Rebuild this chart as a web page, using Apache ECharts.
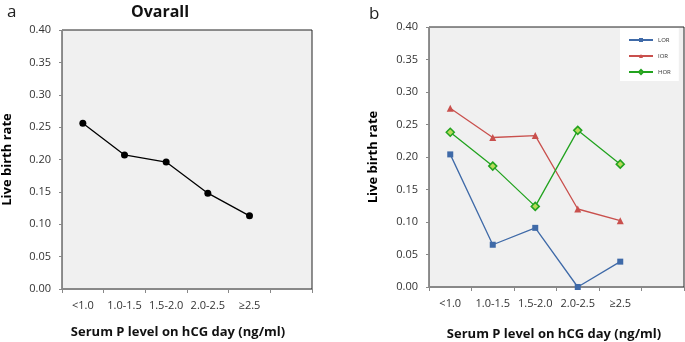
<!DOCTYPE html>
<html>
<head>
<meta charset="utf-8">
<script src="https://cdn.jsdelivr.net/npm/echarts@6/dist/echarts.min.js"></script>
<style>
  html, body { margin: 0; padding: 0; background: #fff; }
  #chart { width: 685px; height: 342px; }
</style>
</head>
<body>
<div id="chart"></div>
<script>
// categories: last band is empty (as in the original figure)
const categories = ['<1.0', '1.0-1.5', '1.5-2.0', '2.0-2.5', '≥2.5', ''];

// panel a — overall
const overall = [0.256, 0.207, 0.196, 0.148, 0.113];

// panel b — by ovarian response
const lor = [0.204, 0.065, 0.091, 0.0, 0.039];
const ior = [0.275, 0.230, 0.233, 0.120, 0.102];
const hor = [0.238, 0.186, 0.124, 0.241, 0.189];

const FONT = '"Open Sans", "Liberation Sans", sans-serif';
const chart = echarts.init(document.getElementById('chart'), null, { renderer: 'canvas' });

const xAxisBase = (gridIndex) => ({
  type: 'category',
  gridIndex,
  data: categories,
  boundaryGap: true,
  axisLine: { show: true, lineStyle: { color: '#888', width: 1 } },
  axisTick: { show: true, length: 4, lineStyle: { color: '#888' } },
  axisLabel: { color: '#333', fontSize: 11, fontFamily: FONT, margin: 11, interval: 0 },
  splitLine: { show: false },
});

const yAxisBase = (gridIndex, nameGap) => ({
  type: 'value',
  gridIndex,
  min: 0, max: 0.4, interval: 0.05,
  name: 'Live birth rate',
  nameLocation: 'middle',
  nameGap,
  nameTextStyle: { color: '#000', fontSize: 13, fontWeight: 'bold', fontFamily: FONT },
  axisLine: { show: true, lineStyle: { color: '#888', width: 1 } },
  axisTick: { show: true, length: 3, lineStyle: { color: '#888' } },
  axisLabel: { color: '#333', fontSize: 11, fontFamily: FONT, margin: 11, formatter: v => v.toFixed(2) },
  splitLine: { show: false },
});

chart.setOption({
  backgroundColor: '#fff',
  animation: false,
  title: [
    { text: 'a', left: 2, top: -1, textStyle: { fontSize: 17, fontWeight: 'normal', color: '#222', fontFamily: FONT } },
    { text: 'Ovarall', left: 155, top: -1, textAlign: 'center', textStyle: { fontSize: 16, fontWeight: 'bold', color: '#111', fontFamily: FONT } },
    { text: 'b', left: 364, top: 1, textStyle: { fontSize: 17, fontWeight: 'normal', color: '#222', fontFamily: FONT } },
    { text: 'Serum P level on hCG day (ng/ml)', left: 173, top: 321, textAlign: 'center', textStyle: { fontSize: 13, fontWeight: 'bold', color: '#111', fontFamily: FONT } },
    { text: 'Serum P level on hCG day (ng/ml)', left: 549, top: 323, textAlign: 'center', textStyle: { fontSize: 13, fontWeight: 'bold', color: '#111', fontFamily: FONT } },
  ],
  grid: [
    { left: 60, top: 30, width: 252, height: 259, show: true, backgroundColor: '#f0f0f0', borderColor: '#222', borderWidth: 1 },
    { left: 429, top: 27, width: 255, height: 260, show: true, backgroundColor: '#f0f0f0', borderColor: '#222', borderWidth: 1 },
  ],
  legend: {
    show: true,
    orient: 'vertical',
    left: 620, top: 28,
    padding: [9, 8, 6, 8],
    itemGap: 10,
    itemWidth: 24, itemHeight: 5,
    backgroundColor: '#fff',
    textStyle: { fontSize: 6, color: '#333', fontFamily: FONT },
    data: ['LOR', 'IOR', 'HOR'],
  },
  xAxis: [xAxisBase(0), xAxisBase(1)],
  yAxis: [yAxisBase(0, 48), yAxisBase(1, 49)],
  series: [
    {
      name: 'Overall', type: 'line', xAxisIndex: 0, yAxisIndex: 0,
      data: overall,
      symbol: 'circle', symbolSize: 7,
      lineStyle: { color: '#000', width: 1.3 },
      itemStyle: { color: '#000' },
    },
    {
      name: 'LOR', type: 'line', xAxisIndex: 1, yAxisIndex: 1,
      data: lor,
      symbol: 'rect', symbolSize: 6,
      lineStyle: { color: '#3F6AA8', width: 1.3 },
      itemStyle: { color: '#3F6AA8' },
    },
    {
      name: 'IOR', type: 'line', xAxisIndex: 1, yAxisIndex: 1,
      data: ior,
      symbol: 'triangle', symbolSize: 7,
      lineStyle: { color: '#C9504D', width: 1.3 },
      itemStyle: { color: '#C9504D' },
    },
    {
      name: 'HOR', type: 'line', xAxisIndex: 1, yAxisIndex: 1,
      data: hor,
      symbol: 'diamond', symbolSize: 8,
      lineStyle: { color: '#22A31F', width: 1.3 },
      itemStyle: { color: '#B9D95A', borderColor: '#22A31F', borderWidth: 1.5 },
    },
  ],
});
</script>
</body>
</html>
